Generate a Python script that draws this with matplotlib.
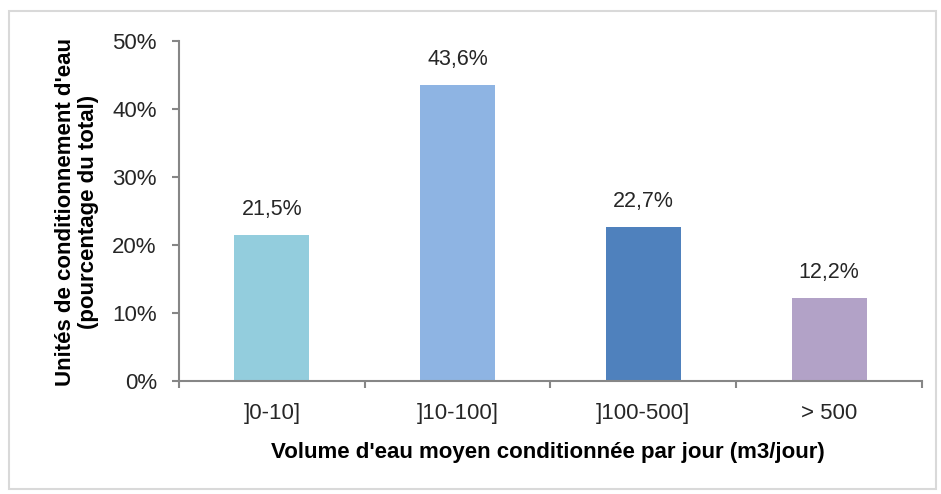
import matplotlib.pyplot as plt
from matplotlib.patches import Rectangle
from matplotlib import font_manager

# Données du graphique
categories = [']0-10]', ']10-100]', ']100-500]', '> 500']
valeurs = [21.5, 43.6, 22.7, 12.2]
couleurs = ['#93CDDD', '#8EB4E3', '#4F81BD', '#B2A2C7']
graduations = [0, 10, 20, 30, 40, 50]

noms = {f.name for f in font_manager.fontManager.ttflist}
police = 'Liberation Sans Narrow' if 'Liberation Sans Narrow' in noms else 'Liberation Sans'
plt.rcParams['font.family'] = [police, 'DejaVu Sans']

gris = '#868686'
taille = 16
fig = plt.figure(figsize=(9.41, 4.94), dpi=100)
ax = fig.add_axes([0.1902, 0.2287, 0.7896, 0.6883])

x = list(range(len(categories)))
ax.bar(x, valeurs, width=0.405, color=couleurs)
for xi, v in zip(x, valeurs):
    ax.text(xi, v + 2.2, f'{v:.1f}%'.replace('.', ','), ha='center', va='bottom',
            fontsize=15.5, color='#262626')

ax.set_xlim(-0.5, len(categories) - 0.5)
ax.set_ylim(0, 50)
ax.set_yticks(graduations)
ax.set_yticklabels([f'{g}%' for g in graduations], fontsize=taille, color='#262626')
ax.set_xticks(x)
ax.set_xticklabels(categories, fontsize=taille, color='#262626')
ax.tick_params(axis='x', length=0, pad=16)
ax.set_xticks([i - 0.5 for i in range(len(categories) + 1)], minor=True)
ax.tick_params(axis='x', which='minor', length=5, color=gris, width=1.5)
ax.tick_params(axis='y', length=5, color=gris, width=1.5, pad=11)

for cote in ['top', 'right']:
    ax.spines[cote].set_visible(False)
for cote in ['left', 'bottom']:
    ax.spines[cote].set_color(gris)
    ax.spines[cote].set_linewidth(1.5)

fig.text(0.5824, 0.085, "Volume d'eau moyen conditionnée par jour (m3/jour)",
         ha='center', va='center', fontsize=taille, fontweight='bold')
fig.text(0.082, 0.571, "Unités de conditionnement d'eau\n(pourcentage du total)",
         ha='center', va='center', rotation=90, fontsize=taille, fontweight='bold',
         linespacing=1.1)

# Cadre autour de la figure
fig.patches.append(Rectangle((0.0096, 0.01), 0.985, 0.968, transform=fig.transFigure,
                             fill=False, edgecolor='#D9D9D9', linewidth=1.5))

fig.savefig('out.png', dpi=100)
